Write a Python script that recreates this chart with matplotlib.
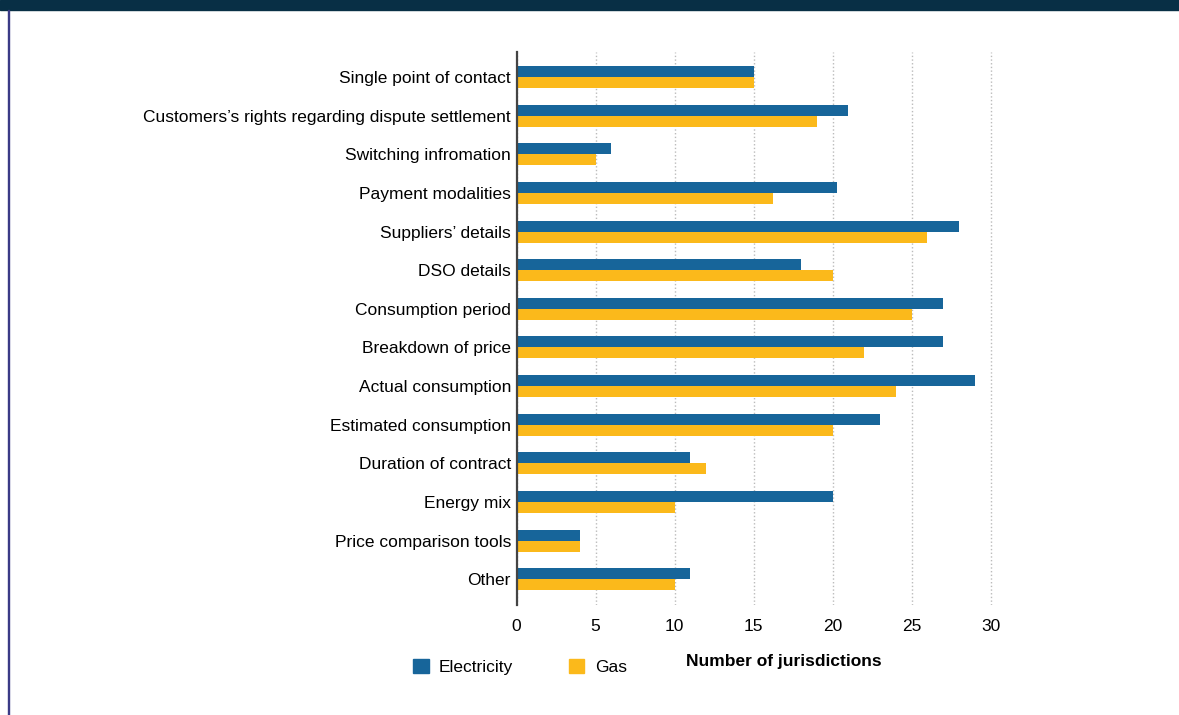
import matplotlib.pyplot as plt
import matplotlib.patches as mpatches
import numpy as np

plt.rcParams['font.family'] = ['Liberation Sans', 'DejaVu Sans']

categories = [
    'Single point of contact',
    'Customers\u2019s rights regarding dispute settlement',
    'Switching infromation',
    'Payment modalities',
    'Suppliers\u2019 details',
    'DSO details',
    'Consumption period',
    'Breakdown of price',
    'Actual consumption',
    'Estimated consumption',
    'Duration of contract',
    'Energy mix',
    'Price comparison tools',
    'Other',
]
electricity = [15, 21, 6, 20.25, 28, 18, 27, 27, 29, 23, 11, 20, 4, 11]
gas = [15, 19, 5, 16.25, 26, 20, 25, 22, 24, 20, 12, 10, 4, 10]
x_ticks = [0, 5, 10, 15, 20, 25, 30]

ELEC_COLOR = '#17659a'
GAS_COLOR = '#fbb91b'

fig = plt.figure(figsize=(11.79, 7.15), dpi=100)

# header band and left rule
fig.patches.append(mpatches.Rectangle((0, 0.986), 1, 0.014, transform=fig.transFigure,
                                      color='#082f45', zorder=0))
fig.patches.append(mpatches.Rectangle((0.0065, 0), 0.0013, 0.986, transform=fig.transFigure,
                                      color='#3a3a86', zorder=0))

ax = fig.add_axes([0.4381, 0.1538, 0.4088, 0.7735])

y = np.arange(len(categories))
h = 0.285
ax.barh(y - h / 2, electricity, height=h, color=ELEC_COLOR, label='Electricity', zorder=3)
ax.barh(y + h / 2, gas, height=h, color=GAS_COLOR, label='Gas', zorder=3)

ax.set_ylim(len(categories) - 1 + 0.67, -0.65)
ax.set_xlim(0, 30.5)
ax.set_yticks(y)
ax.set_yticklabels(categories, fontsize=12.5)
ax.set_xticks(x_ticks)
ax.set_xticklabels([str(t) for t in x_ticks], fontsize=12.5)
ax.tick_params(axis='both', length=0)
ax.tick_params(axis='x', pad=10)
ax.tick_params(axis='y', pad=4)

for s in ['top', 'right', 'bottom']:
    ax.spines[s].set_visible(False)
ax.spines['left'].set_color('#444444')
ax.spines['left'].set_linewidth(1.6)
ax.spines['left'].set_zorder(4)

ax.grid(axis='x', linestyle=':', color='#bbbbbb', linewidth=1, zorder=0)
ax.set_axisbelow(True)

ax.set_xlabel('Number of jurisdictions', fontsize=12.5, fontweight='bold')
ax.xaxis.set_label_coords(0.555, -0.088)

handles = [mpatches.Patch(color=ELEC_COLOR, label='Electricity'),
           mpatches.Patch(color=GAS_COLOR, label='Gas')]
fig.legend(handles=handles, loc='center left', bbox_to_anchor=(0.337, 0.067), ncol=2,
           frameon=False, fontsize=12.5, handlelength=0.9, handleheight=0.9,
           handletextpad=0.6, columnspacing=3.2)

fig.savefig('out.png', dpi=100)
